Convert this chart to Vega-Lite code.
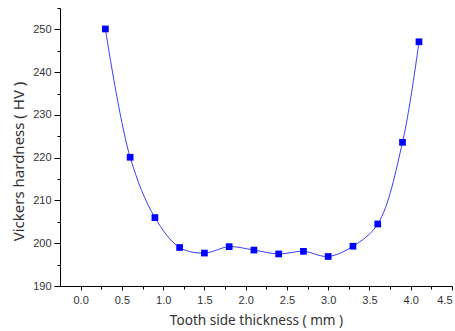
{
  "$schema": "https://vega.github.io/schema/vega-lite/v6.json",
  "width": 392,
  "height": 278,
  "autosize": {"type": "none"},
  "padding": {"left": 60, "top": 8, "right": 3, "bottom": 45},
  "background": "white",
  "config": {
    "view": {"stroke": null},
    "axis": {
      "domainColor": "#000000",
      "tickColor": "#000000",
      "grid": false,
      "labelFont": "Liberation Sans",
      "labelFontSize": 11,
      "labelColor": "#333333",
      "titleFont": "Noto Sans",
      "titleFontSize": 13.6,
      "titleFontWeight": "normal",
      "titleColor": "#333333"
    }
  },
  "data": {
    "values": [
      {"x": 0.3, "hv": 250.1},
      {"x": 0.6, "hv": 220.1},
      {"x": 0.9, "hv": 206.0},
      {"x": 1.2, "hv": 199.0},
      {"x": 1.5, "hv": 197.7},
      {"x": 1.8, "hv": 199.2},
      {"x": 2.1, "hv": 198.4},
      {"x": 2.4, "hv": 197.5},
      {"x": 2.7, "hv": 198.1},
      {"x": 3.0, "hv": 196.9},
      {"x": 3.3, "hv": 199.3},
      {"x": 3.6, "hv": 204.5},
      {"x": 3.9, "hv": 223.6},
      {"x": 4.1, "hv": 247.1}
    ]
  },
  "layer": [
    {
      "mark": {"type": "line", "interpolate": "catmull-rom", "color": "#3c3cff", "strokeWidth": 1},
      "encoding": {
        "x": {
          "field": "x", "type": "quantitative",
          "scale": {"domain": [-0.25, 4.5], "nice": false, "zero": false},
          "axis": {"orient": "bottom", "values": [0.25, 0.75, 1.25, 1.75, 2.25, 2.75, 3.25, 3.75, 4.25], "labels": false, "tickSize": 3, "title": null, "domain": false}
        },
        "y": {
          "field": "hv", "type": "quantitative",
          "scale": {"domain": [190, 255], "nice": false, "zero": false},
          "axis": {"orient": "left", "values": [195, 205, 215, 225, 235, 245, 255], "labels": false, "tickSize": 3, "title": null, "domain": false}
        }
      }
    },
    {
      "mark": {"type": "point", "shape": "square", "filled": true, "color": "#0000ff", "size": 45, "opacity": 1},
      "encoding": {
        "x": {
          "field": "x", "type": "quantitative",
          "scale": {"domain": [-0.25, 4.5], "nice": false, "zero": false},
          "axis": {"orient": "bottom", "values": [0, 0.5, 1, 1.5, 2, 2.5, 3, 3.5, 4, 4.5], "format": ".1f", "tickSize": 4, "labelPadding": 4, "title": "Tooth side thickness ( mm )", "titlePadding": 8}
        },
        "y": {
          "field": "hv", "type": "quantitative",
          "scale": {"domain": [190, 255], "nice": false, "zero": false},
          "axis": {"orient": "left", "values": [190, 200, 210, 220, 230, 240, 250], "tickSize": 6, "labelPadding": 3, "title": "Vickers hardness ( HV )", "titleFontSize": 15, "titleY": 153, "titlePadding": 6}
        }
      }
    }
  ],
  "resolve": {"axis": {"x": "independent", "y": "independent"}}
}
